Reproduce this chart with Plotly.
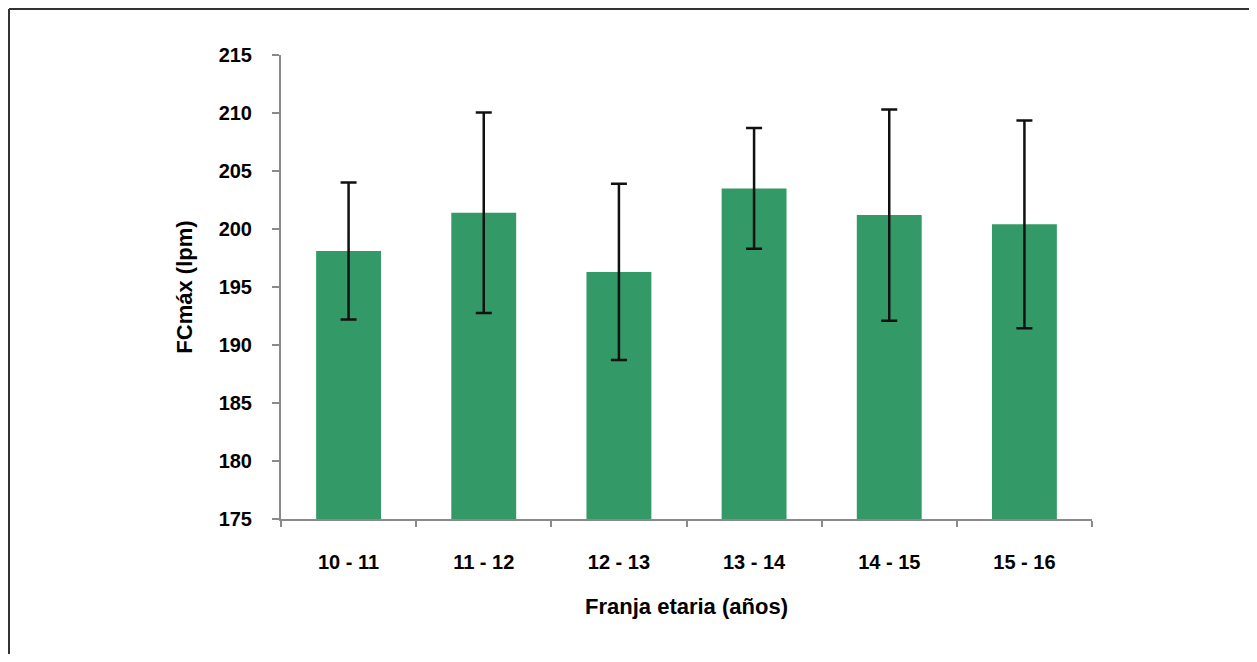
import plotly.graph_objects as go

categories = ["10 - 11", "11 - 12", "12 - 13", "13 - 14", "14 - 15", "15 - 16"]
fc_max = [198.1, 201.4, 196.3, 203.5, 201.2, 200.4]
sd = [5.9, 8.65, 7.6, 5.2, 9.1, 8.95]
y_ticks = [175, 180, 185, 190, 195, 200, 205, 210, 215]

W, H = 1241, 646
ML, MT = 273, 47
pw, ph = 811, 464
MR = W - ML - pw
MB = H - MT - ph

fig = go.Figure()
fig.add_trace(go.Bar(
    x=categories, y=fc_max,
    marker=dict(color="#339966", line=dict(width=0)),
    error_y=dict(type="data", array=sd, visible=True, color="#111111", thickness=2.5, width=8),
    width=0.48,
))

font = "Liberation Sans, Arial, sans-serif"
fig.update_layout(
    width=W, height=H,
    margin=dict(l=ML, r=MR, t=MT, b=MB, pad=0),
    paper_bgcolor="white", plot_bgcolor="white",
    showlegend=False,
    font=dict(family=font, color="black"),
    xaxis=dict(
        showline=True, linecolor="#8a8a8a", linewidth=2,
        ticks="outside", tickson="boundaries", ticklen=6, tickcolor="#8a8a8a", tickwidth=2,
        tickfont=dict(size=20, family=font, weight="bold"),
        ticklabelstandoff=24,
        showgrid=False, zeroline=False,
        title=dict(text="<b>Franja etaria (años)</b>", font=dict(size=22, family=font), standoff=27),
    ),
    yaxis=dict(
        range=[175, 215], tickvals=y_ticks,
        showline=True, linecolor="#8a8a8a", linewidth=2,
        ticks="outside", ticklen=7, tickcolor="#8a8a8a", tickwidth=2,
        tickfont=dict(size=20, family=font, weight="bold"),
        ticklabelstandoff=16,
        showgrid=False, zeroline=False,
        title=dict(text="<b>FCmáx (lpm)</b>", font=dict(size=22, family=font), standoff=20),
    ),
    shapes=[
        dict(type="line", xref="paper", yref="paper",
             x0=(1 - ML) / pw, x1=(W + 5 - ML) / pw,
             y0=(MT + ph - 1) / ph, y1=(MT + ph - 1) / ph,
             line=dict(color="#333333", width=2)),
        dict(type="line", xref="paper", yref="paper",
             x0=(1 - ML) / pw, x1=(1 - ML) / pw,
             y0=(MT + ph - 1) / ph, y1=-(MB + 5) / ph,
             line=dict(color="#333333", width=2)),
    ],
)

fig.write_html("out.html")
